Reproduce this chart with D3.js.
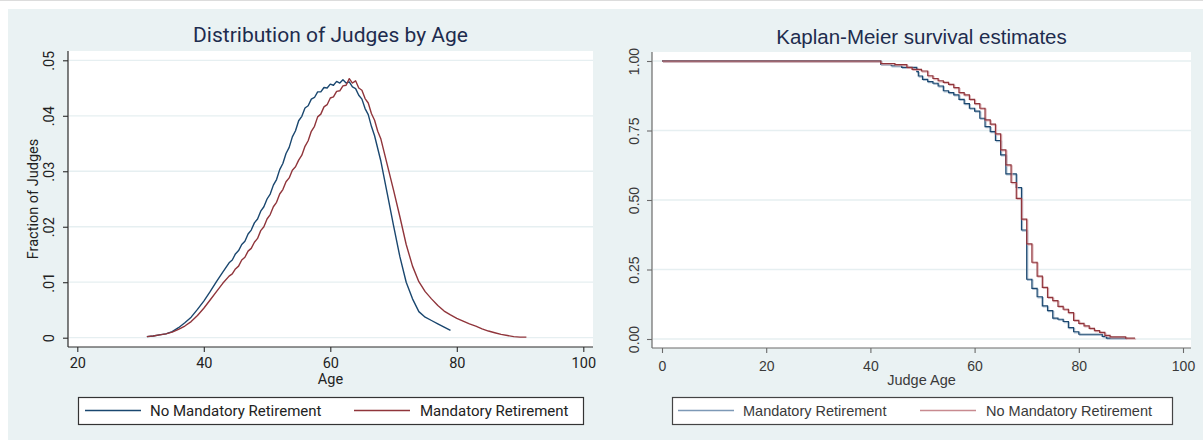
<!DOCTYPE html>
<html>
<head>
<meta charset="utf-8">
<script src="https://cdn.jsdelivr.net/npm/d3@7"></script>
<style>
  html, body { margin: 0; padding: 0; background: #ffffff; }
  svg { display: block; }
</style>
</head>
<body>
<svg id="chart" width="1203" height="440"></svg>
<script>
// ---- Age distribution (fraction of judges at each age) ----
const densityNoMandatory = [
  [31,.0002],[32,.0003],[33,.0005],[34,.0007],[35,.0011],[36,.0018],[37,.0027],[38,.0037],
  [39,.0051],[40,.0066],[41,.0083],[42,.0101],[43,.0118],[44,.0135],[44.5,.0140],[45,.0151],
  [45.5,.0157],[46,.0168],[46.5,.0174],[47,.0187],[47.5,.0194],[48,.0207],[48.5,.0214],[49,.0228],
  [49.5,.0236],[50,.0250],[50.5,.0259],[51,.0275],[51.5,.0285],[52,.0303],[52.5,.0314],[53,.0332],
  [53.5,.0343],[54,.0362],[54.5,.0373],[55,.0391],[55.5,.0399],[56,.0414],[56.5,.0418],[57,.0430],
  [57.5,.0433],[58,.0443],[58.5,.0443],[59,.0451],[59.5,.0450],[60,.0457],[60.5,.0455],[61,.0462],
  [61.5,.0459],[62,.0465],[62.5,.0459],[63,.0461],[63.5,.0452],[64,.0449],[64.5,.0437],[65,.0430],
  [65.5,.0413],[66,.0402],[66.5,.0381],[67,.0364],[68,.0318],[69,.0260],[70,.0202],[71,.0146],
  [72,.0100],[73,.0070],[74,.0047],[75,.0037],[76,.0031],[77,.0025],[78,.0019],[79,.0013]
];
const densityMandatory = [
  [31,.0002],[32,.0003],[33,.0005],[34,.0007],[35,.0010],[36,.0015],[37,.0021],[38,.0029],
  [39,.0040],[40,.0053],[41,.0068],[42,.0083],[43,.0098],[44,.0111],[44.5,.0115],[45,.0124],
  [45.5,.0129],[46,.0140],[46.5,.0145],[47,.0156],[47.5,.0161],[48,.0172],[48.5,.0179],[49,.0193],
  [49.5,.0200],[50,.0214],[50.5,.0222],[51,.0236],[51.5,.0244],[52,.0259],[52.5,.0267],[53,.0281],
  [53.5,.0288],[54,.0302],[54.5,.0308],[55,.0320],[55.5,.0329],[56,.0345],[56.5,.0355],[57,.0372],
  [57.5,.0381],[58,.0398],[58.5,.0403],[59,.0416],[59.5,.0420],[60,.0432],[60.5,.0434],[61,.0444],
  [61.5,.0445],[62,.0454],[62.5,.0455],[63,.0467],[63.5,.0459],[64,.0463],[64.5,.0450],[65,.0446],
  [65.5,.0431],[66,.0423],[66.5,.0404],[67,.0392],[67.5,.0372],[68,.0358],[69,.0312],[70,.0266],
  [71,.0218],[72,.0168],[73,.0129],[74,.0101],[75,.0083],[76,.0070],[77,.0058],[78,.0048],
  [79,.0041],[80,.0035],[81,.0030],[82,.0025],[83,.0021],[84,.0016],[85,.0012],[86,.0009],
  [87,.0006],[88,.0004],[89,.0002],[90,.0001],[91,.0001]
];
const densityAgeTicks = [20, 40, 60, 80, 100];
const densityFracTicks = [0, .01, .02, .03, .04, .05];
const densityFracLabels = ["0", ".01", ".02", ".03", ".04", ".05"];

// ---- Kaplan-Meier survival: [age, survival from that age on] ----
const kmMandatory = [
  [0,1],[42,.988],[44,.983],[46,.977],[48.9,.962],[49.2,.946],[50,.934],[51,.926],[52,.920],
  [53,.910],[54,.893],[55,.886],[56,.878],[57,.862],[58,.847],[59,.830],[60,.820],[61,.794],
  [62,.764],[63,.746],[64,.714],[65,.662],[66,.594],[68,.545],[69,.392],[70,.215],[71,.182],
  [72,.152],[73,.119],[74,.102],[75,.075],[76,.071],[77,.063],[78,.041],[79,.026],[80,.017],
  [84.5,.009],[85.3,.003],[89.1,.003]
];
const kmNoMandatory = [
  [0,1],[42,.991],[44.7,.987],[47,.977],[48,.970],[49.8,.964],[51,.947],[52,.937],[53,.929],
  [54,.923],[55,.916],[56,.904],[57,.886],[58,.878],[59,.862],[60,.847],[61,.830],[62,.788],
  [63,.773],[64,.738],[65,.680],[66,.626],[67,.563],[68,.506],[69,.431],[70,.342],[71,.276],
  [72,.226],[73,.186],[74,.150],[75,.138],[76,.117],[77,.107],[78,.095],[79,.067],[80,.056],
  [81,.047],[82,.038],[83,.030],[84,.024],[85,.013],[86,.008],[89,.003],[90.8,.003]
];
const kmAgeTicks = [0, 20, 40, 60, 80, 100];
const kmSurvTicks = [0, .25, .5, .75, 1];

const NAVY = "#1a476f", MAROON = "#90353b";

const svg = d3.select("#chart");

// backdrop: thin rule along the top, then the graph region colour
svg.append("rect").attr("x", 0).attr("y", 0).attr("width", 1203).attr("height", 1).attr("fill", "#dcdcdc");
svg.append("rect").attr("x", 8).attr("y", 9).attr("width", 1195).attr("height", 431).attr("fill", "#eaf2f3");

function drawPanel(p) {
  const g = svg.append("g");
  // plot region
  g.append("rect").attr("x", p.box[0]).attr("y", p.box[1])
    .attr("width", p.box[2] - p.box[0]).attr("height", p.box[3] - p.box[1]).attr("fill", "#ffffff");

  // horizontal grid
  g.selectAll(".grid").data(p.yTicks).join("line")
    .attr("x1", p.box[0] + 1).attr("x2", p.box[2])
    .attr("y1", d => p.y(d)).attr("y2", d => p.y(d))
    .attr("stroke", "#e6eff1").attr("stroke-width", 1.3);

  // series
  p.series.forEach(s => s.draw(g));

  // axes lines
  g.append("line").attr("x1", p.box[0]).attr("x2", p.box[0]).attr("y1", p.box[1]).attr("y2", p.box[3])
    .attr("stroke", p.axisColor).attr("stroke-width", 1.2);
  g.append("line").attr("x1", p.box[0]).attr("x2", p.box[2]).attr("y1", p.box[3]).attr("y2", p.box[3])
    .attr("stroke", p.axisColor).attr("stroke-width", 1.2);

  // x axis ticks through d3's axis generator
  const xAxis = d3.axisBottom(p.x).tickValues(p.xTicks).tickSize(5).tickSizeOuter(0).tickPadding(4);
  const xg = g.append("g").attr("transform", `translate(0,${p.box[3]})`).call(xAxis);
  xg.select(".domain").remove();
  xg.selectAll("line").attr("stroke", p.axisColor).attr("stroke-width", 1.1);
  xg.selectAll("text").attr("font-family", p.font).attr("font-size", p.tickSize)
    .attr("fill", p.textColor).attr("dy", null).attr("y", p.xLabelBaseline - p.box[3]);

  // y axis ticks, labels rotated (each tick group is already placed at its value)
  const yAxis = d3.axisLeft(p.y).tickValues(p.yTicks).tickSize(5).tickSizeOuter(0).tickFormat(p.yFormat);
  const yg = g.append("g").attr("transform", `translate(${p.box[0]},0)`).call(yAxis);
  yg.select(".domain").remove();
  yg.selectAll("line").attr("stroke", p.axisColor).attr("stroke-width", 1.1);
  yg.selectAll("text")
    .attr("font-family", p.font).attr("font-size", p.tickSize).attr("fill", p.textColor)
    .attr("x", 0).attr("y", 0).attr("dy", null).attr("text-anchor", "middle")
    .attr("transform", `translate(${p.yLabelBaseline - p.box[0]},0) rotate(-90)`);

  // titles
  g.append("text").attr("x", (p.box[0] + p.box[2]) / 2).attr("y", p.titleBaseline)
    .attr("text-anchor", "middle").attr("font-family", p.font).attr("font-size", p.titleSize)
    .attr("fill", "#1e2c4e").text(p.title);
  g.append("text").attr("x", (p.box[0] + p.box[2]) / 2).attr("y", p.xTitleBaseline)
    .attr("text-anchor", "middle").attr("font-family", p.font).attr("font-size", p.labelSize)
    .attr("fill", p.textColor).text(p.xTitle);
  if (p.yTitle) {
    g.append("text").attr("transform", `translate(${p.yTitleBaseline},${(p.box[1] + p.box[3]) / 2}) rotate(-90)`)
      .attr("text-anchor", "middle").attr("font-family", p.font).attr("font-size", p.labelSize)
      .attr("fill", p.textColor).text(p.yTitle);
  }

  // legend
  const L = p.legend;
  g.append("rect").attr("x", L.box[0] + 0.5).attr("y", L.box[1] + 0.5)
    .attr("width", L.box[2] - L.box[0]).attr("height", L.box[3] - L.box[1])
    .attr("fill", "#ffffff").attr("stroke", p.legendStroke).attr("stroke-width", 1.2);
  const midY = (L.box[1] + L.box[3]) / 2;
  L.items.forEach(it => {
    g.append("line").attr("x1", it.x0).attr("x2", it.x1).attr("y1", midY).attr("y2", midY)
      .attr("stroke", it.color).attr("stroke-width", 1.4);
    g.append("text").attr("x", it.tx).attr("y", L.baseline).attr("font-family", p.font)
      .attr("font-size", L.size).attr("fill", p.textColor).text(it.label);
  });
}

// ---------- left panel: distribution of judges by age ----------
const xD = d3.scaleLinear().domain([20, 100]).range([77.3, 583.3]);
const yD = d3.scaleLinear().domain([0, .05]).range([337.7, 60.3]);
const densityLine = d3.line().x(d => xD(d[0])).y(d => yD(d[1])).curve(d3.curveLinear);

drawPanel({
  box: [68, 51, 593, 347],
  x: xD, y: yD,
  xTicks: densityAgeTicks, yTicks: densityFracTicks,
  yFormat: d => densityFracLabels[densityFracTicks.indexOf(d)],
  font: "Roboto, 'Open Sans', sans-serif", textColor: "#222222", axisColor: "#2b2b2b",
  tickSize: 14.5, labelSize: 14.5, titleSize: 21,
  xLabelBaseline: 368, yLabelBaseline: 54,
  title: "Distribution of Judges by Age", titleBaseline: 41.5,
  xTitle: "Age", xTitleBaseline: 384,
  yTitle: "Fraction of Judges", yTitleBaseline: 37.5,
  legendStroke: "#333333",
  legend: {
    box: [78, 397, 583, 424], baseline: 415.5, size: 15,
    items: [
      { x0: 85, x1: 141, tx: 150, color: NAVY, label: "No Mandatory Retirement" },
      { x0: 354, x1: 410, tx: 420, color: MAROON, label: "Mandatory Retirement" }
    ]
  },
  series: [
    { draw: g => g.append("path").datum(densityNoMandatory).attr("d", densityLine)
        .attr("fill", "none").attr("stroke", NAVY).attr("stroke-width", 1.4).attr("stroke-linejoin", "round") },
    { draw: g => g.append("path").datum(densityMandatory).attr("d", densityLine)
        .attr("fill", "none").attr("stroke", MAROON).attr("stroke-width", 1.4).attr("stroke-linejoin", "round") }
  ]
});

// ---------- right panel: Kaplan-Meier survival estimates ----------
const xK = d3.scaleLinear().domain([0, 100]).range([662, 1183]);
const yK = d3.scaleLinear().domain([0, 1]).range([339, 61]);
const kmLine = d3.line().x(d => xK(d[0])).y(d => yK(d[1])).curve(d3.curveStepAfter);

function kmSeries(data, dark, light) {
  return {
    draw: g => {
      // soft companion stroke beside each step
      g.append("path").datum(data).attr("d", kmLine).attr("transform", "translate(1,1)")
        .attr("fill", "none").attr("stroke", light).attr("stroke-width", 1.3).attr("opacity", 0.8);
      g.append("path").datum(data).attr("d", kmLine)
        .attr("fill", "none").attr("stroke", dark).attr("stroke-width", 1.2);
    }
  };
}

drawPanel({
  box: [652, 52, 1191, 348],
  x: xK, y: yK,
  xTicks: kmAgeTicks, yTicks: kmSurvTicks,
  yFormat: d3.format(".2f"),
  font: "'Liberation Sans', Arial, sans-serif", textColor: "#3a3a3a", axisColor: "#6a6a6a",
  tickSize: 14, labelSize: 14.5, titleSize: 20.5,
  xLabelBaseline: 370.5, yLabelBaseline: 639,
  title: "Kaplan-Meier survival estimates", titleBaseline: 43.5,
  xTitle: "Judge Age", xTitleBaseline: 384.5,
  yTitle: null,
  legendStroke: "#444444",
  legend: {
    box: [672, 397, 1172, 424], baseline: 416, size: 14.5,
    items: [
      { x0: 678, x1: 734, tx: 743, color: "#7d99b6", label: "Mandatory Retirement" },
      { x0: 920, x1: 976, tx: 986, color: "#c88a90", label: "No Mandatory Retirement" }
    ]
  },
  series: [
    kmSeries(kmMandatory, NAVY, "#9fb4c9"),
    kmSeries(kmNoMandatory, MAROON, "#d9a5aa")
  ]
});
</script>
</body>
</html>
